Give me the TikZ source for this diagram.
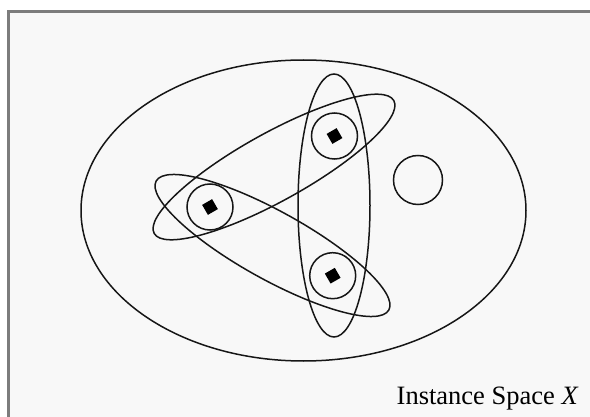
\documentclass[tikz,border=0pt]{standalone}
\usepackage{fontspec}
\setmainfont{Liberation Serif}
\definecolor{bordergray}{RGB}{124,124,124}
\definecolor{panel}{RGB}{248,248,248}
\definecolor{ink}{RGB}{22,22,22}
\begin{document}
\begin{tikzpicture}[x=1pt,y=-1pt,
  curve/.style={draw=ink, line width=1.5pt},
  ring/.style={circle, draw=ink, line width=1.5pt, minimum size=46pt, inner sep=0pt},
  emptyring/.style={ring, minimum size=49pt},
  dot/.style={rectangle, fill=black, minimum size=11.5pt, inner sep=0pt, rotate=30},
  label/.style={inner sep=0pt, anchor=base west, font=\fontsize{26.5}{30}\selectfont}]
\useasboundingbox (0,0) rectangle (590,417);
\clip (0,0) rectangle (590,417);
\fill[white] (0,0) rectangle (590,417);
\draw[draw=bordergray, fill=panel, line width=3pt] (8.5,11.5) rectangle (620,450);
% instance space
\draw[curve] (303.5,210.5) ellipse [x radius=222.5pt, y radius=150.5pt];
% three hypothesis ellipses
\draw[curve] (334,205.5) ellipse [x radius=36pt, y radius=131.5pt];
\draw[curve, rotate around={29:(274,167)}] (274,167) ellipse [x radius=137pt, y radius=34pt];
\draw[curve, rotate around={-29:(272.5,245.5)}] (272.5,245.5) ellipse [x radius=133pt, y radius=34pt];
% instances
\node[ring] (rl) at (210,207) {};
\node[dot] (dl) at (rl.center) {};
\node[ring] (rt) at (334.5,136) {};
\node[dot] (dt) at (rt.center) {};
\node[ring] (rb) at (332.7,275.7) {};
\node[dot] (db) at (rb.center) {};
\node[emptyring] (re) at (418,180) {};
% caption
\node[label] (cap) at (396.5,404) {Instance Space \textit{X}};
\end{tikzpicture}
\end{document}
